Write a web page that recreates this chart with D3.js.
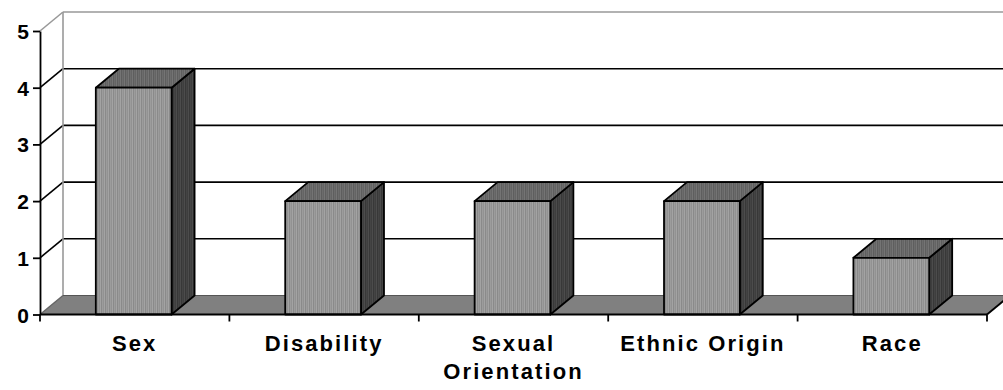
<!DOCTYPE html>
<html lang="en">
<head>
    <meta charset="UTF-8">
    <title>3D Column Chart</title>
    <script src="https://d3js.org/d3.v7.min.js"></script>
    <style>
        body { margin: 0; background: #fff; }
        svg { display: block; }
        .axis text {
            font-family: Arial, "Liberation Sans", sans-serif;
            font-weight: bold;
            font-size: 21px;
            fill: #000;
        }
        .xaxis text { font-size: 22px; letter-spacing: 2.1px; }
    </style>
</head>
<body>
    <svg width="1003" height="390"></svg>
    <script>
        const categories = ["Sex", "Disability", "Sexual Orientation", "Ethnic Origin", "Race"];
        const counts = [4, 2, 2, 2, 1];
        const yTicks = [0, 1, 2, 3, 4, 5];

        const width = 1003, height = 390;
        // oblique depth of the 3D box
        const dx = 23, dy = -19;

        const svg = d3.select("svg");

        const x = d3.scaleBand()
            .domain(categories)
            .range([40, 987]);

        const y = d3.scaleLinear()
            .domain([0, 5])
            .range([314.5, 31]);

        // stripe patterns for bar faces
        const defs = svg.append("defs");
        function stripes(id, cols) {
            const p = defs.append("pattern")
                .attr("id", id)
                .attr("patternUnits", "userSpaceOnUse")
                .attr("width", cols.length)
                .attr("height", 10);
            cols.forEach((c, i) => {
                p.append("rect").attr("x", i).attr("y", 0)
                    .attr("width", 1).attr("height", 10).attr("fill", c);
            });
        }
        stripes("front", ["#a3a3a3", "#8a8a8a", "#9c9c9c", "#929292"]);
        stripes("top", ["#747474", "#5e5e5e", "#6c6c6c", "#646464"]);
        stripes("side", ["#4c4c4c", "#383838", "#444444", "#3e3e3e"]);

        const x0 = x.range()[0], x1 = x.range()[1];

        // gridlines on side wall and back wall
        const grid = svg.append("g");
        yTicks.filter(t => t > 0).forEach(t => {
            const col = t === 5 ? "#999" : "#000";
            grid.append("line")
                .attr("x1", x0).attr("y1", y(t))
                .attr("x2", x0 + dx).attr("y2", y(t) + dy)
                .attr("stroke", col).attr("stroke-width", 1.6);
            grid.append("line")
                .attr("x1", x0 + dx).attr("y1", y(t) + dy)
                .attr("x2", width + 10).attr("y2", y(t) + dy)
                .attr("stroke", col).attr("stroke-width", 1.6);
        });
        // back wall left edge
        grid.append("line")
            .attr("x1", x0 + dx).attr("y1", y(5) + dy)
            .attr("x2", x0 + dx).attr("y2", y(0) + dy)
            .attr("stroke", "#999").attr("stroke-width", 1.6);

        // floor
        svg.append("polygon")
            .attr("points", [[x0, y(0)], [x1, y(0)], [x1 + dx, y(0) + dy], [x0 + dx, y(0) + dy]].join(" "))
            .attr("fill", "#808080");
        svg.append("line")
            .attr("x1", x0 + dx).attr("y1", y(0) + dy)
            .attr("x2", width + 10).attr("y2", y(0) + dy)
            .attr("stroke", "#555").attr("stroke-width", 1.2);
        svg.append("line")
            .attr("x1", x0).attr("y1", y(0))
            .attr("x2", x0 + dx).attr("y2", y(0) + dy)
            .attr("stroke", "#666").attr("stroke-width", 1.4);
        svg.append("line")
            .attr("x1", x1).attr("y1", y(0))
            .attr("x2", x1 + dx).attr("y2", y(0) + dy)
            .attr("stroke", "#000").attr("stroke-width", 1.8);

        // bars
        const barW = x.bandwidth() * 0.4;
        const bars = svg.append("g")
            .selectAll("g")
            .data(categories.map((c, i) => ({ name: c, value: counts[i] })))
            .join("g")
            .attr("stroke", "#000")
            .attr("stroke-width", 1.8)
            .attr("stroke-linejoin", "round");

        const bx0 = d => x(d.name) + (x.bandwidth() - barW) / 2 - 1;
        const bx1 = d => bx0(d) + barW;

        bars.append("polygon")
            .attr("fill", "url(#side)")
            .attr("points", d => [[bx1(d), y(d.value)], [bx1(d) + dx, y(d.value) + dy],
                [bx1(d) + dx, y(0) + dy], [bx1(d), y(0)]].join(" "));
        bars.append("polygon")
            .attr("fill", "url(#top)")
            .attr("points", d => [[bx0(d), y(d.value)], [bx1(d), y(d.value)],
                [bx1(d) + dx, y(d.value) + dy], [bx0(d) + dx, y(d.value) + dy]].join(" "));
        bars.append("rect")
            .attr("fill", "url(#front)")
            .attr("x", bx0)
            .attr("y", d => y(d.value))
            .attr("width", barW)
            .attr("height", d => y(0) - y(d.value));

        // y axis
        const yAxis = svg.append("g")
            .attr("class", "axis")
            .attr("transform", `translate(${x0},0)`)
            .call(d3.axisLeft(y).tickValues(yTicks).tickFormat(d3.format("d")).tickSize(7).tickSizeOuter(0));
        yAxis.selectAll("line, path").attr("stroke", "#000").attr("stroke-width", 1.8);
        yAxis.selectAll("text").attr("x", -11).attr("dy", "0.36em");

        // x axis line, ticks between categories
        const xAxis = svg.append("g")
            .attr("class", "axis xaxis")
            .attr("transform", `translate(0,${y(0)})`);
        xAxis.append("line")
            .attr("x1", x0).attr("x2", x1)
            .attr("stroke", "#000").attr("stroke-width", 2);
        const edges = categories.map(c => x(c)).concat([x1]);
        xAxis.selectAll(".edge")
            .data(edges)
            .join("line")
            .attr("class", "edge")
            .attr("x1", d => d).attr("x2", d => d)
            .attr("y1", 0).attr("y2", 7)
            .attr("stroke", "#000").attr("stroke-width", 1.8);

        const labels = xAxis.selectAll(".lbl")
            .data(categories)
            .join("text")
            .attr("class", "lbl")
            .attr("text-anchor", "middle")
            .attr("x", d => x(d) + x.bandwidth() / 2)
            .attr("y", 36)
            .text(d => d);

        // wrap labels wider than the band
        labels.each(function (d) {
            const t = d3.select(this);
            const words = d.split(" ");
            if (this.getComputedTextLength() < x.bandwidth() - 10 || words.length < 2) return;
            const cx = t.attr("x");
            t.text(null);
            words.forEach((w, i) => {
                t.append("tspan").attr("x", cx).attr("dy", i === 0 ? 0 : 28).text(w);
            });
        });
    </script>
</body>
</html>
